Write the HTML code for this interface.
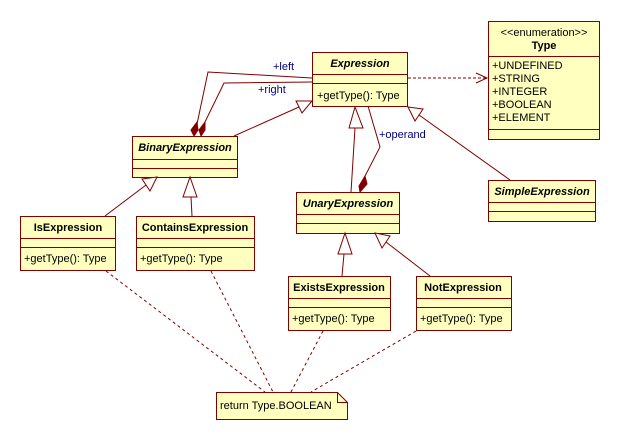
<!DOCTYPE html>
<html><head><meta charset="utf-8"><style>
body{margin:0;background:#fff}
svg{display:block}
text{font-family:"Liberation Sans",sans-serif;font-size:11px;fill:#000}
.b{font-weight:bold}
.i{font-style:italic;font-weight:bold}
</style></head><body>
<svg width="620" height="440" viewBox="0 0 620 440">
<g fill="#ffffc0" stroke="#800000" stroke-width="1">
<rect x="312.5" y="52.5" width="95" height="54"/>
<line x1="312.5" y1="74.5" x2="407.5" y2="74.5"/><line x1="312.5" y1="83.5" x2="407.5" y2="83.5"/>
<rect x="488.5" y="21.5" width="111" height="118"/>
<line x1="488.5" y1="56.5" x2="599.5" y2="56.5"/><line x1="488.5" y1="129.5" x2="599.5" y2="129.5"/>
<rect x="132.5" y="136.5" width="105" height="41"/>
<line x1="132.5" y1="159.5" x2="237.5" y2="159.5"/><line x1="132.5" y1="168.5" x2="237.5" y2="168.5"/>
<rect x="20.5" y="216.5" width="95" height="54"/>
<line x1="20.5" y1="238.5" x2="115.5" y2="238.5"/><line x1="20.5" y1="247.5" x2="115.5" y2="247.5"/>
<rect x="136.5" y="216.5" width="118" height="54"/>
<line x1="136.5" y1="238.5" x2="254.5" y2="238.5"/><line x1="136.5" y1="247.5" x2="254.5" y2="247.5"/>
<rect x="296.5" y="192.5" width="103" height="41"/>
<line x1="296.5" y1="214.5" x2="399.5" y2="214.5"/><line x1="296.5" y1="223.5" x2="399.5" y2="223.5"/>
<rect x="488.5" y="180.5" width="107" height="41"/>
<line x1="488.5" y1="202.5" x2="595.5" y2="202.5"/><line x1="488.5" y1="211.5" x2="595.5" y2="211.5"/>
<rect x="288.5" y="276.5" width="102" height="54"/>
<line x1="288.5" y1="298.5" x2="390.5" y2="298.5"/><line x1="288.5" y1="307.5" x2="390.5" y2="307.5"/>
<rect x="416.5" y="276.5" width="95" height="54"/>
<line x1="416.5" y1="298.5" x2="511.5" y2="298.5"/><line x1="416.5" y1="307.5" x2="511.5" y2="307.5"/>
<path d="M216.5 392.5 H337.5 L347.5 402.5 V419.5 H216.5 Z"/>
<path d="M337.5 392.5 V402.5 H347.5" fill="none"/>
</g>
<g fill="none" stroke="#800000" stroke-width="1">
<polyline points="312,78 208,72 197,124"/>
<polyline points="312,82 224,83 204,124"/>
<line x1="234" y1="136" x2="299" y2="107"/>
<line x1="351" y1="192" x2="355" y2="128"/>
<polyline points="368,106 380,147 364,178"/>
<line x1="510" y1="180" x2="419" y2="115"/>
<line x1="105" y1="216" x2="146" y2="185"/>
<line x1="192" y1="216" x2="191" y2="197"/>
<line x1="342" y1="276" x2="344" y2="254"/>
<line x1="430" y1="276" x2="386" y2="242"/>
<line x1="408" y1="78" x2="486" y2="78" stroke-dasharray="3,2"/>
<polyline points="476,73 487,78 476,83"/>
<g stroke-dasharray="3,3">
<line x1="106" y1="271" x2="265" y2="392"/>
<line x1="211" y1="271" x2="273" y2="392"/>
<line x1="323" y1="331" x2="291" y2="392"/>
<line x1="416" y1="331" x2="311" y2="392"/>
</g>
</g>
<g fill="#fff" stroke="#800000">
<polygon points="312,101 296,101 302,113"/>
<polygon points="355,107 349,128 363,128"/>
<polygon points="408,107 423,109 415,121"/>
<polygon points="157,177 142,179 150,191"/>
<polygon points="190,177 183,197 197,197"/>
<polygon points="345,233 338,254 352,254"/>
<polygon points="375,233 390,236 382,248"/>
</g>
<g fill="#800000" stroke="#800000">
<polygon points="194,136 191,130 197,122 198,130"/>
<polygon points="201,136 199,130 205,122 205,130"/>
<polygon points="360,192 359,186 365,176 367,184"/>
</g>
<text x="273" y="70" style="fill:#000080">+left</text>
<text x="258" y="93" style="fill:#000080">+right</text>
<text x="379" y="138" style="fill:#000080">+operand</text>
<text class="i" x="360" y="67" text-anchor="middle">Expression</text>
<text x="317" y="99">+getType(): Type</text>
<text x="544" y="36" text-anchor="middle">&lt;&lt;enumeration&gt;&gt;</text>
<text class="b" x="544" y="49" text-anchor="middle">Type</text>
<text x="492" y="69">+UNDEFINED</text>
<text x="492" y="82">+STRING</text>
<text x="492" y="95">+INTEGER</text>
<text x="492" y="108">+BOOLEAN</text>
<text x="492" y="121">+ELEMENT</text>
<text class="i" x="185" y="151" text-anchor="middle">BinaryExpression</text>
<text class="b" x="68" y="231" text-anchor="middle">IsExpression</text>
<text x="24" y="262">+getType(): Type</text>
<text class="b" x="195" y="231" text-anchor="middle">ContainsExpression</text>
<text x="140" y="262">+getType(): Type</text>
<text class="i" x="348" y="207" text-anchor="middle">UnaryExpression</text>
<text class="i" x="542" y="195" text-anchor="middle">SimpleExpression</text>
<text class="b" x="339" y="291" text-anchor="middle">ExistsExpression</text>
<text x="292" y="322">+getType(): Type</text>
<text class="b" x="463" y="291" text-anchor="middle">NotExpression</text>
<text x="420" y="322">+getType(): Type</text>
<text x="220" y="409">return Type.BOOLEAN</text>
</svg>
</body></html>
